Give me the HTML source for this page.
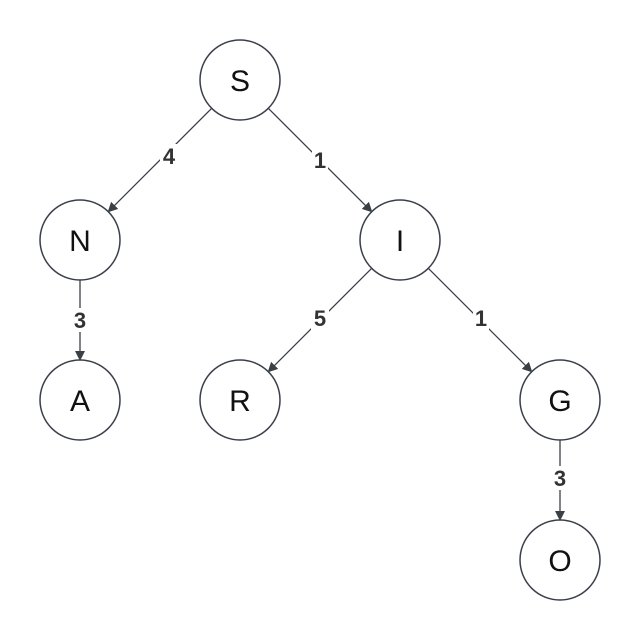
<!DOCTYPE html>
<html><head><meta charset="utf-8"><style>
html,body{margin:0;padding:0;background:#fff;}
svg{display:block;}
</style></head><body>
<svg width="640" height="640" viewBox="0 0 640 640" xmlns="http://www.w3.org/2000/svg">
<defs>
<marker id="ar" markerWidth="10" markerHeight="10" refX="9" refY="5" orient="auto" markerUnits="userSpaceOnUse">
<path d="M0,0 L10,5 L0,10 z" fill="#3a3f48"/>
</marker>
</defs>
<g stroke="#3a3f48" stroke-width="1.3" fill="none">
<line x1="211.7" y1="108.3" x2="108.3" y2="211.7" marker-end="url(#ar)"/>
<line x1="268.3" y1="108.3" x2="371.7" y2="211.7" marker-end="url(#ar)"/>
<line x1="80" y1="280" x2="80" y2="360" marker-end="url(#ar)"/>
<line x1="371.7" y1="268.3" x2="268.3" y2="371.7" marker-end="url(#ar)"/>
<line x1="428.3" y1="268.3" x2="531.7" y2="371.7" marker-end="url(#ar)"/>
<line x1="560" y1="440" x2="560" y2="520" marker-end="url(#ar)"/>
</g>
<g font-family="Liberation Sans, sans-serif" font-weight="bold" font-size="22" fill="#333" text-anchor="middle">
<rect x="160" y="144" width="18" height="24" fill="#fff"/><text x="169" y="164">4</text>
<rect x="312" y="148" width="16" height="24" fill="#fff"/><text x="320" y="168">1</text>
<rect x="71" y="308" width="18" height="24" fill="#fff"/><text x="80" y="328">3</text>
<rect x="311" y="306" width="18" height="24" fill="#fff"/><text x="320" y="326">5</text>
<rect x="473" y="306" width="16" height="24" fill="#fff"/><text x="481" y="326">1</text>
<rect x="551" y="466" width="18" height="24" fill="#fff"/><text x="560" y="486">3</text>
</g>
<g stroke="#3a3f48" stroke-width="1.5" fill="#fff">
<circle cx="240" cy="80" r="40"/>
<circle cx="80" cy="240" r="40"/>
<circle cx="400" cy="240" r="40"/>
<circle cx="80" cy="400" r="40"/>
<circle cx="240" cy="400" r="40"/>
<circle cx="560" cy="400" r="40"/>
<circle cx="560" cy="560" r="40"/>
</g>
<g font-family="Liberation Sans, sans-serif" font-size="30" fill="#111" text-anchor="middle">
<text x="240" y="91">S</text>
<text x="80" y="251">N</text>
<text x="400" y="251">I</text>
<text x="80" y="411">A</text>
<text x="240" y="411">R</text>
<text x="560" y="411">G</text>
<text x="560" y="571">O</text>
</g>
</svg>
</body></html>
